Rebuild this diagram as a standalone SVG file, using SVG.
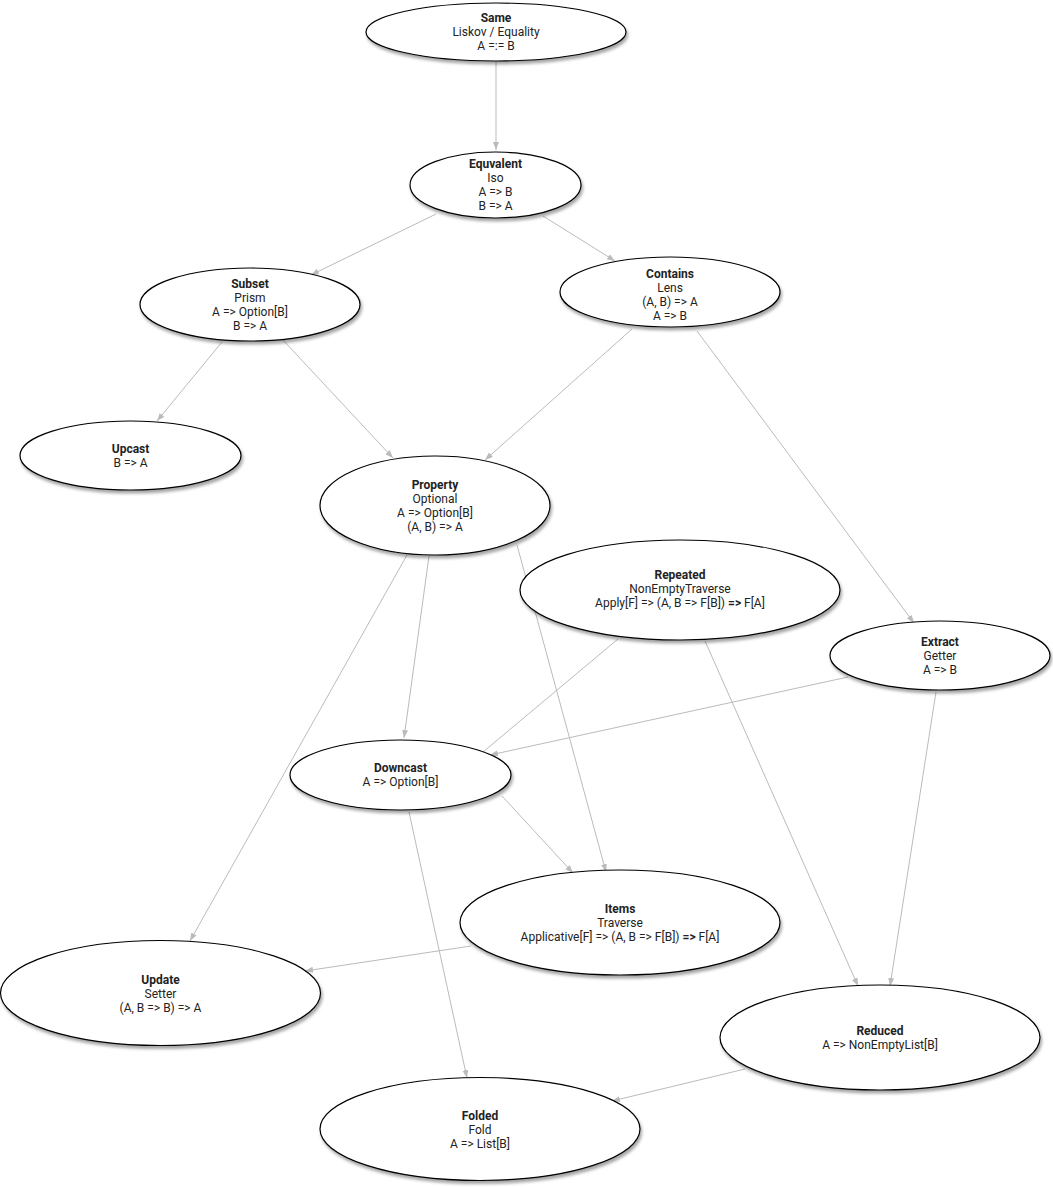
<svg xmlns="http://www.w3.org/2000/svg" width="1053" height="1187" viewBox="0 0 1053 1187">
<style>
.n ellipse{fill:#fff;stroke:#000;stroke-width:1.2;filter:url(#sh)}
.n text{font-family:Roboto,"Liberation Sans",sans-serif;font-size:12px;fill:#222;text-anchor:middle}
.n .t{font-weight:bold}
.b{font-weight:bold}
.e line{stroke:#bbb;stroke-width:1;fill:none}
.e .a{marker-end:url(#ah)}
</style>
<defs>
<filter id="sh" x="-10%" y="-10%" width="120%" height="130%">
<feDropShadow dx="1.5" dy="3" stdDeviation="1.5" flood-color="#000" flood-opacity="0.35"/>
</filter>
<marker id="ah" markerUnits="userSpaceOnUse" markerWidth="10" markerHeight="8" refX="8" refY="3" orient="auto">
<path d="M0,0 L8,3 L0,6 z" fill="#bbb"/>
</marker>
</defs>
<rect width="1053" height="1187" fill="#fff"/>
<g id="edges" class="e">
<line class="a" x1="496" y1="62" x2="496" y2="150"/>
<line class="a" x1="436" y1="214" x2="311" y2="275"/>
<line class="a" x1="543" y1="216" x2="615" y2="261"/>
<line class="a" x1="222" y1="342" x2="157" y2="421"/>
<line class="a" x1="282" y1="339" x2="393" y2="458"/>
<line class="a" x1="632" y1="329" x2="485" y2="460"/>
<line class="a" x1="697" y1="331" x2="914" y2="623"/>
<line class="a" x1="429" y1="556" x2="404" y2="738"/>
<line class="a" x1="407" y1="555" x2="190" y2="941"/>
<line class="a" x1="517" y1="545" x2="606" y2="872"/>
<line x1="618" y1="639" x2="483" y2="752"/>
<line class="a" x1="705" y1="641" x2="858" y2="986"/>
<line class="a" x1="848" y1="677" x2="490" y2="755"/>
<line class="a" x1="936" y1="692" x2="890" y2="986"/>
<line class="a" x1="502" y1="796" x2="573" y2="873"/>
<line class="a" x1="409" y1="812" x2="467" y2="1078"/>
<line class="a" x1="471" y1="946" x2="305" y2="971"/>
<line class="a" x1="745" y1="1069" x2="612" y2="1101"/>
</g>
<g id="same" class="n">
<ellipse cx="496" cy="32" rx="130" ry="29"/>
<text x="496" y="22" class="t">Same</text>
<text x="496" y="36">Liskov / Equality</text>
<text x="496" y="50">A =:= B</text>
</g>
<g id="equivalent" class="n">
<ellipse cx="495.5" cy="185" rx="85.5" ry="33"/>
<text x="495.5" y="168" class="t">Equvalent</text>
<text x="495.5" y="182">Iso</text>
<text x="495.5" y="196">A =&gt; B</text>
<text x="495.5" y="210">B =&gt; A</text>
</g>
<g id="subset" class="n">
<ellipse cx="250" cy="304.5" rx="110" ry="36.5"/>
<text x="250" y="288" class="t">Subset</text>
<text x="250" y="302">Prism</text>
<text x="250" y="316">A =&gt; Option[B]</text>
<text x="250" y="330">B =&gt; A</text>
</g>
<g id="contains" class="n">
<ellipse cx="670" cy="292" rx="110" ry="35"/>
<text x="670" y="278" class="t">Contains</text>
<text x="670" y="292">Lens</text>
<text x="670" y="306">(A, B) =&gt; A</text>
<text x="670" y="320">A =&gt; B</text>
</g>
<g id="upcast" class="n">
<ellipse cx="130.5" cy="455.5" rx="110.5" ry="34.5"/>
<text x="130.5" y="452.5" class="t">Upcast</text>
<text x="130.5" y="466.5">B =&gt; A</text>
</g>
<g id="property" class="n">
<ellipse cx="435" cy="505.5" rx="115" ry="49.5"/>
<text x="435" y="488.5" class="t">Property</text>
<text x="435" y="502.5">Optional</text>
<text x="435" y="516.5">A =&gt; Option[B]</text>
<text x="435" y="530.5">(A, B) =&gt; A</text>
</g>
<g id="repeated" class="n">
<ellipse cx="680" cy="590" rx="160" ry="50"/>
<text x="680" y="579" class="t">Repeated</text>
<text x="680" y="593">NonEmptyTraverse</text>
<text x="680" y="607">Apply[F] =&gt; (A, B =&gt; F[B]) <tspan class="b">=&gt;</tspan> F[A]</text>
</g>
<g id="extract" class="n">
<ellipse cx="940" cy="655.5" rx="110" ry="34.5"/>
<text x="940" y="645.5" class="t">Extract</text>
<text x="940" y="659.5">Getter</text>
<text x="940" y="673.5">A =&gt; B</text>
</g>
<g id="downcast" class="n">
<ellipse cx="400.5" cy="775" rx="110.5" ry="35"/>
<text x="400.5" y="772" class="t">Downcast</text>
<text x="400.5" y="786">A =&gt; Option[B]</text>
</g>
<g id="items" class="n">
<ellipse cx="620" cy="922.5" rx="160" ry="52.5"/>
<text x="620" y="912.5" class="t">Items</text>
<text x="620" y="926.5">Traverse</text>
<text x="620" y="940.5">Applicative[F] =&gt; (A, B =&gt; F[B]) <tspan class="b">=&gt;</tspan> F[A]</text>
</g>
<g id="update" class="n">
<ellipse cx="160.5" cy="993" rx="160" ry="52.5"/>
<text x="160.5" y="984" class="t">Update</text>
<text x="160.5" y="998">Setter</text>
<text x="160.5" y="1012">(A, B =&gt; B) =&gt; A</text>
</g>
<g id="reduced" class="n">
<ellipse cx="880" cy="1037.5" rx="160" ry="52.5"/>
<text x="880" y="1034.5" class="t">Reduced</text>
<text x="880" y="1048.5">A =&gt; NonEmptyList[B]</text>
</g>
<g id="folded" class="n">
<ellipse cx="480" cy="1129" rx="160" ry="51.5"/>
<text x="480" y="1120" class="t">Folded</text>
<text x="480" y="1134">Fold</text>
<text x="480" y="1148">A =&gt; List[B]</text>
</g>
</svg>
